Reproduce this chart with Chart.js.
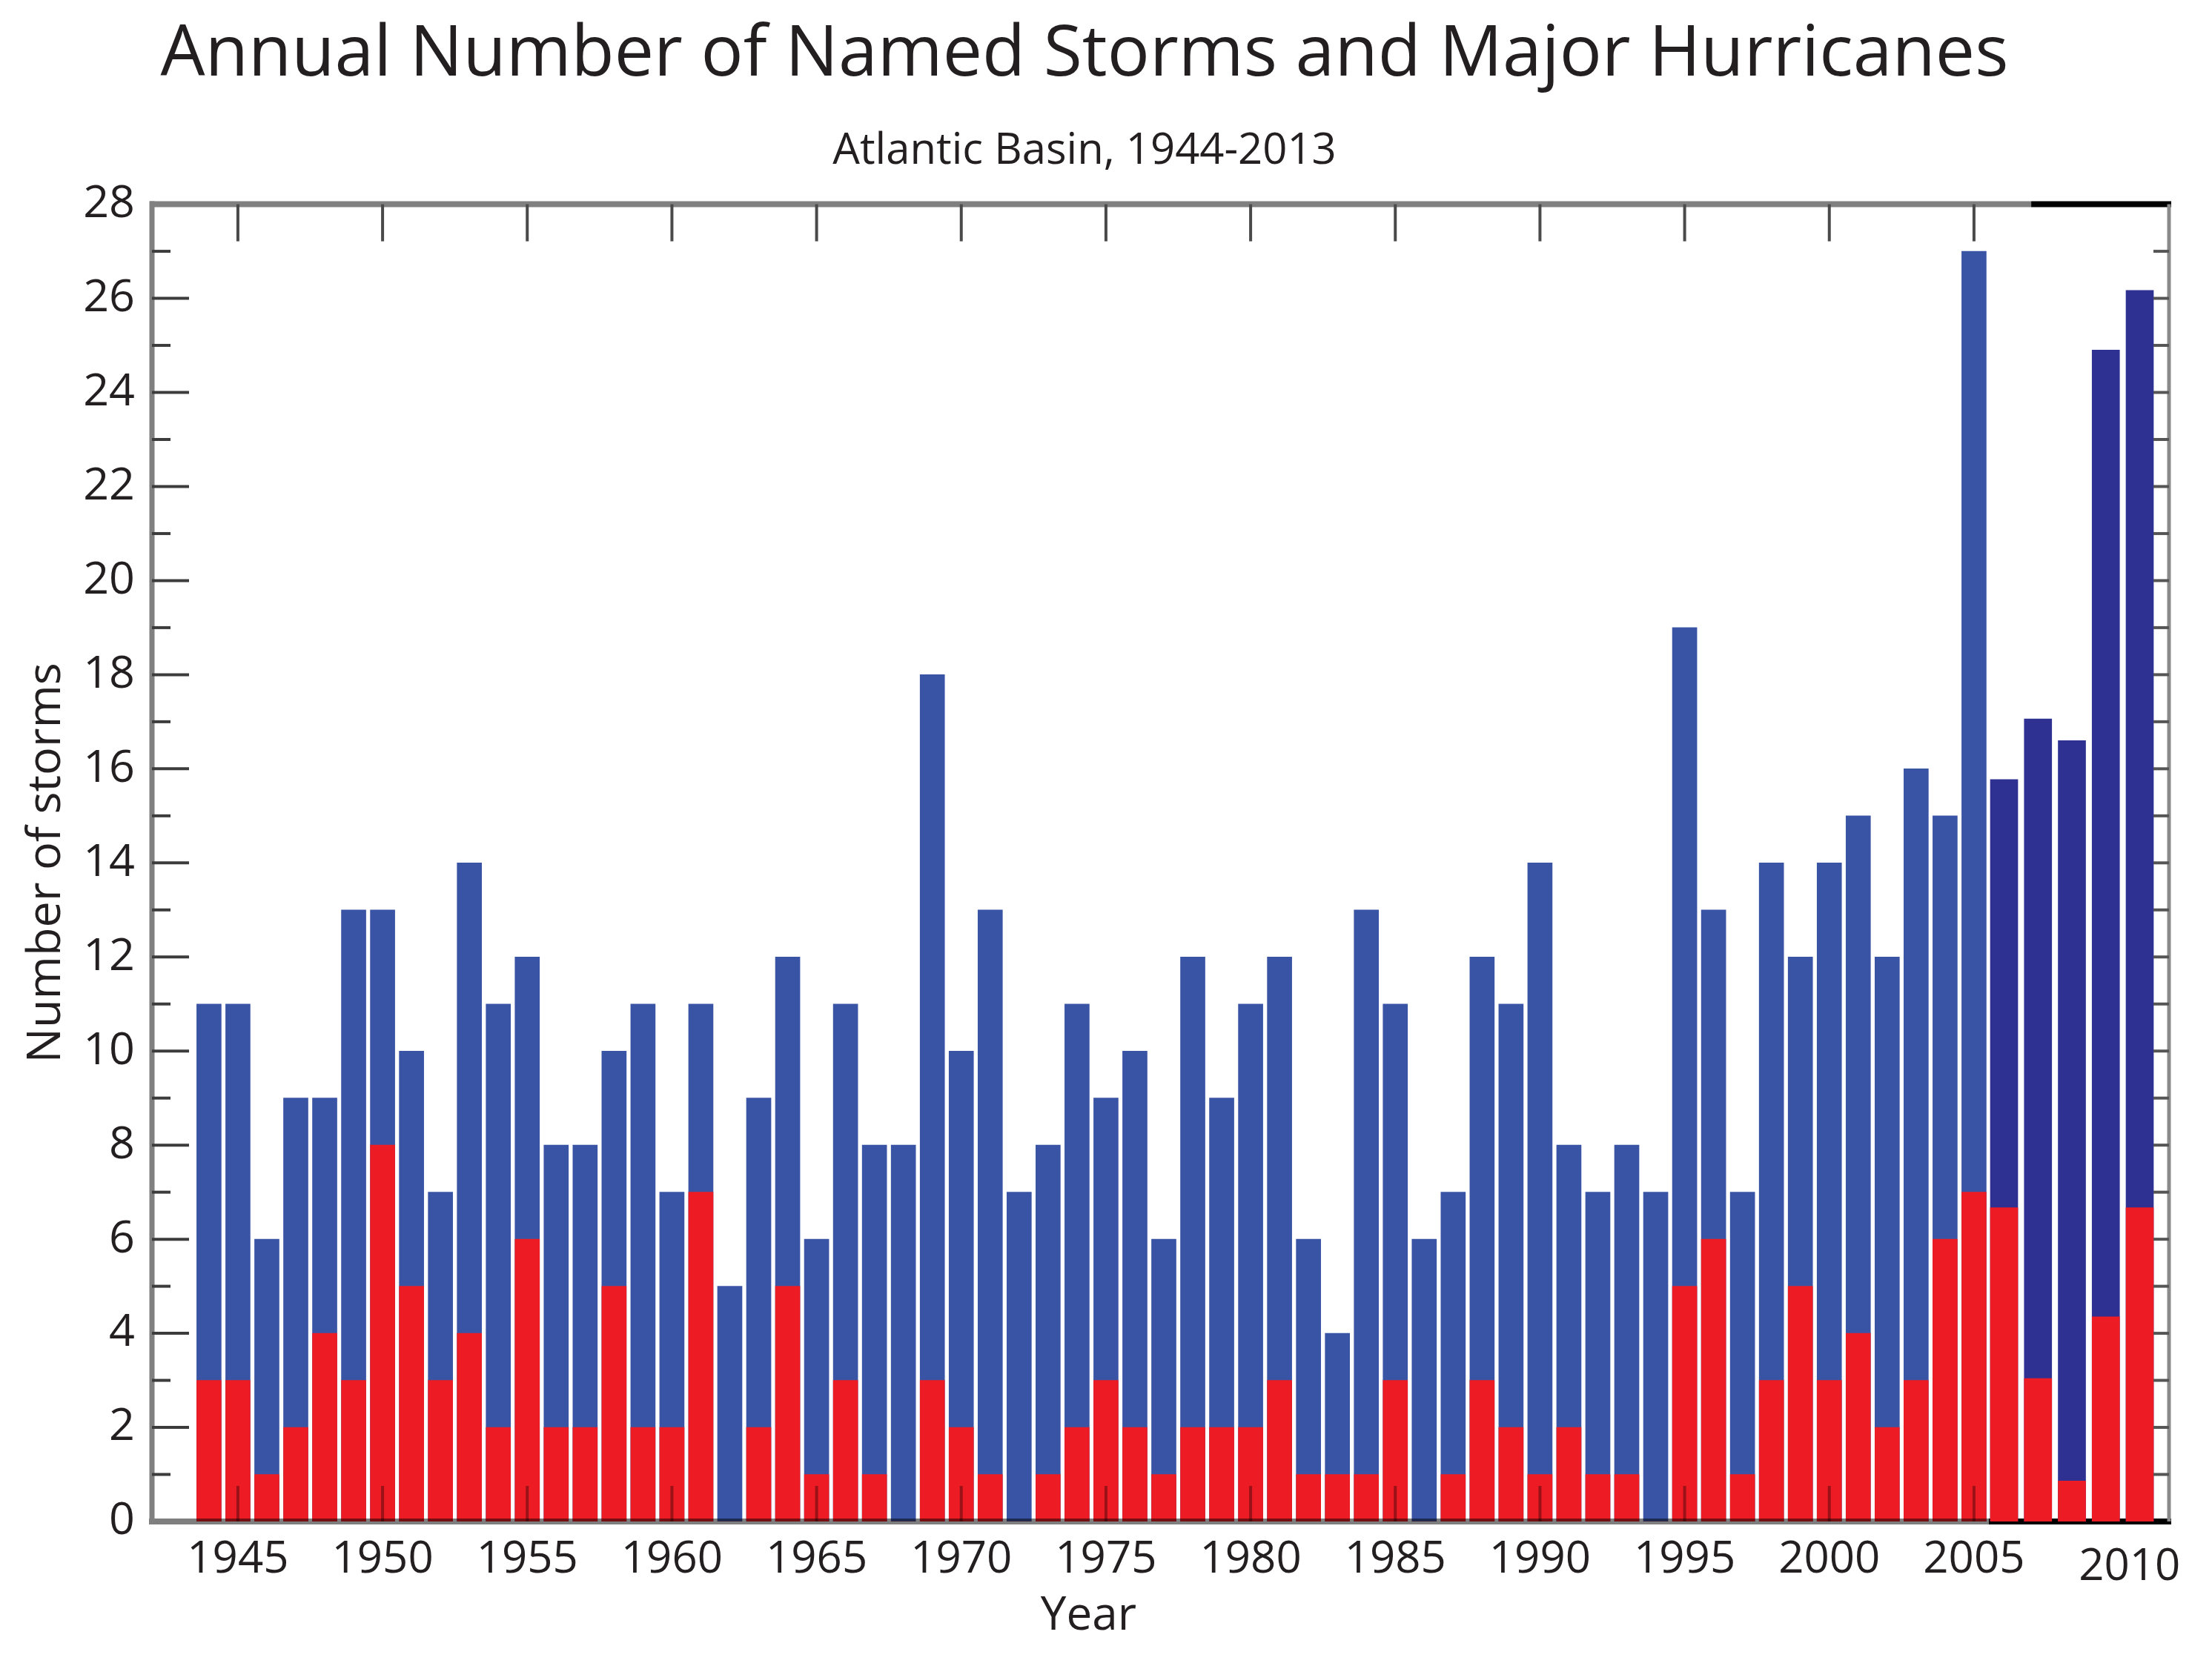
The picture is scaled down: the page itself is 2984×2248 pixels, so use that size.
<!DOCTYPE html>
<html>
<head>
<meta charset="utf-8">
<script src="https://cdn.jsdelivr.net/npm/chart.js@4.4.1/dist/chart.umd.min.js"></script>
<style>
html,body{margin:0;padding:0;background:#ffffff;}
canvas{display:block;}
</style>
</head>
<body>
<canvas id="c" width="2984" height="2248"></canvas>
<script>
// ---------------- data ----------------
const years = [
  1944,1945,1946,1947,1948,1949,1950,1951,1952,1953,
  1954,1955,1956,1957,1958,1959,1960,1961,1962,1963,
  1964,1965,1966,1967,1968,1969,1970,1971,1972,1973,
  1974,1975,1976,1977,1978,1979,1980,1981,1982,1983,
  1984,1985,1986,1987,1988,1989,1990,1991,1992,1993,
  1994,1995,1996,1997,1998,1999,2000,2001,2002,2003,
  2004,2005,2006,2007,2008,2009,2010
];
const namedStorms = [
  11,11,6,9,9,13,13,10,7,14,
  11,12,8,8,10,11,7,11,5,9,
  12,6,11,8,8,18,10,13,7,8,
  11,9,10,6,12,9,11,12,6,4,
  13,11,6,7,12,11,14,8,7,8,
  7,19,13,7,14,12,14,15,12,16,
  15,27,15.77,17.06,16.6,24.9,26.17
];
const majorHurricanes = [
  3,3,1,2,4,3,8,5,3,4,
  2,6,2,2,5,2,2,7,0,2,
  5,1,3,1,0,3,2,1,0,1,
  2,3,2,1,2,2,2,3,1,1,
  1,3,0,1,3,2,1,2,1,1,
  0,5,6,1,3,5,3,4,2,3,
  6,7,6.67,3.04,0.86,4.35,6.67
];
// the last years were added as a separately scaled block in the original figure
const lateBlockStart = 2006;
const yTickLabels = [0,2,4,6,8,10,12,14,16,18,20,22,24,26,28];
const yearTickStep = 5;

// ---------------- style ----------------
const BLUE = '#3a54a5';
const NAVY = '#2e3192';
const RED = '#ed1c24';
const INK = '#231f20';
const FONT = 'Open Sans';

const idxEarly = years.map((y, i) => i).filter(i => years[i] < lateBlockStart);
const idxLate = years.map((y, i) => i).filter(i => years[i] >= lateBlockStart);
const pts = (idx, arr) => idx.map(i => ({x: years[i], y: arr[i]}));

const decor = {
  id: 'decor',
  beforeDatasetsDraw(chart) {
    const {ctx, chartArea: ca} = chart;
    const x2 = chart.scales.x2;
    ctx.save();
    ctx.strokeStyle = '#000';
    ctx.lineWidth = 8;
    ctx.beginPath();
    ctx.moveTo(x2.getPixelForValue(2005.55), ca.bottom);
    ctx.lineTo(ca.right + 3, ca.bottom);
    ctx.stroke();
    ctx.restore();
  },
  afterDatasetsDraw(chart) {
    const {ctx, chartArea: ca} = chart;
    const x = chart.scales.x, x2 = chart.scales.x2, y = chart.scales.y;
    ctx.save();
    const line = (x1, y1, xx2, y2, color, w) => {
      ctx.strokeStyle = color; ctx.lineWidth = w;
      ctx.beginPath(); ctx.moveTo(x1, y1); ctx.lineTo(xx2, y2); ctx.stroke();
    };
    const split = x2.getPixelForValue(2005.55);
    // bottom axis over the early block
    line(ca.left - 4, ca.bottom, split, ca.bottom, 'rgba(0,0,0,0.5)', 8);
    // left axis
    line(ca.left, ca.top - 4, ca.left, ca.bottom + 4, '#808080', 7);
    // top frame
    const topSplit = x2.getPixelForValue(2006.8);
    line(ca.left - 3, ca.top, topSplit, ca.top, '#808080', 8);
    line(topSplit, ca.top, ca.right + 3, ca.top, '#000000', 8);
    // right frame
    line(ca.right, ca.top, ca.right, ca.bottom, '#8a8a8a', 5);
    // y ticks (left, inward) and right ticks
    for (let v = 1; v < 28; v++) {
      const py = y.getPixelForValue(v);
      const len = v % 2 === 0 ? 50 : 25;
      line(ca.left, py, ca.left + len, py, '#3c3c3c', 4);
      line(ca.right - 21, py, ca.right, py, '#555555', 4);
    }
    // year ticks on top (down) and bottom (up)
    for (let yr = 1945; yr < lateBlockStart; yr += yearTickStep) {
      const px = x.getPixelForValue(yr);
      line(px, ca.top, px, ca.top + 50, '#4a4a4a', 4);
      line(px, ca.bottom - 48, px, ca.bottom, 'rgba(0,0,0,0.35)', 4);
    }
    // late block label and axis title
    ctx.fillStyle = INK;
    ctx.textAlign = 'center';
    ctx.textBaseline = 'middle';
    ctx.font = `60px "${FONT}"`;
    ctx.fillText('2010', x2.getPixelForValue(2009.7), ca.bottom + 62);
    ctx.font = `62px "${FONT}"`;
    ctx.fillText('Year', x.getPixelForValue(1974.4), ca.bottom + 128);
    ctx.restore();
  }
};

new Chart(document.getElementById('c'), {
  type: 'bar',
  data: {
    datasets: [
      {label: 'Major hurricanes', data: pts(idxEarly, majorHurricanes), xAxisID: 'x', yAxisID: 'y',
       backgroundColor: RED, barThickness: 33, grouped: false, order: 0},
      {label: 'Major hurricanes ', data: pts(idxLate, majorHurricanes), xAxisID: 'x2', yAxisID: 'y',
       backgroundColor: RED, barThickness: 37, grouped: false, order: 0},
      {label: 'Named storms', data: pts(idxEarly, namedStorms), xAxisID: 'x', yAxisID: 'y',
       backgroundColor: BLUE, barThickness: 33, grouped: false, order: 1},
      {label: 'Named storms ', data: pts(idxLate, namedStorms), xAxisID: 'x2', yAxisID: 'y',
       backgroundColor: NAVY, barThickness: 37, grouped: false, order: 1}
    ]
  },
  options: {
    responsive: false,
    animation: false,
    devicePixelRatio: 1,
    layout: {padding: {left: 0, right: 58, top: 0, bottom: 0}},
    plugins: {
      legend: {display: false},
      tooltip: {enabled: false},
      title: {display: true, text: 'Annual Number of Named Storms and Major Hurricanes',
        color: INK, font: {family: FONT, size: 95, weight: 'normal'}, padding: {top: 18, bottom: 38}},
      subtitle: {display: true, text: 'Atlantic Basin, 1944-2013',
        color: INK, font: {family: FONT, size: 58, weight: 'normal'}, padding: {top: 0, bottom: 36}}
    },
    scales: {
      x: {
        type: 'linear', position: 'bottom', min: 1942.03, max: 2011.74, offset: false,
        grid: {display: false, drawTicks: false}, border: {display: false},
        ticks: {stepSize: yearTickStep, includeBounds: false, autoSkip: false, maxRotation: 0,
          padding: 16, color: INK, font: {family: FONT, size: 60},
          callback: v => (v < lateBlockStart ? String(v) : '')},
        afterFit: s => { s.height = 195; }
      },
      x2: {
        type: 'linear', position: 'bottom', display: false, min: 1951.39, max: 2010.863, offset: false
      },
      y: {
        min: 0, max: 28,
        grid: {display: false, drawTicks: false}, border: {display: false},
        afterBuildTicks: s => { s.ticks = yTickLabels.map(v => ({value: v})); },
        ticks: {padding: 23, color: INK, font: {family: FONT, size: 61}},
        title: {display: true, text: 'Number of storms', color: INK,
          font: {family: FONT, size: 63}, padding: {top: 25, bottom: 0}},
        afterFit: s => { s.width = 205; }
      }
    }
  },
  plugins: [decor]
});
</script>
</body>
</html>
